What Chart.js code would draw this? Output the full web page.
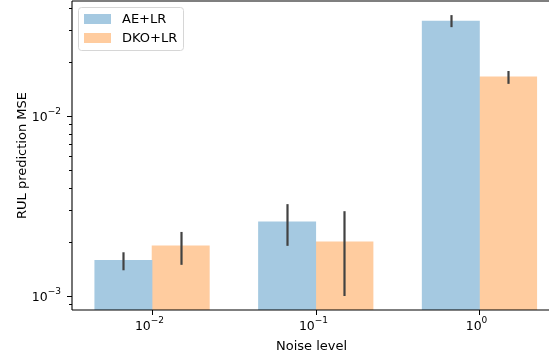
<!DOCTYPE html>
<html>
<head>
<meta charset="utf-8">
<script src="https://cdn.jsdelivr.net/npm/chart.js@4/dist/chart.umd.min.js"></script>
<style>
  html, body { margin: 0; padding: 0; background: #ffffff; }
  #wrap { width: 552px; height: 358px; position: relative; }
</style>
</head>
<body>
<div id="wrap"><canvas id="chart" width="552" height="358"></canvas></div>
<script>
// Noise levels on the x axis (group centres at 0, 1, 2), written as 10^exponent
const noiseExponents = ['\u22122', '\u22121', '0'];
const groupPositions = [0, 1, 2];
const barOffset = 0.175;          // half of one bar's width, in group units

// Mean RUL prediction MSE with lower / upper error limits
const aeMean  = [0.00158, 0.00258, 0.0337];
const aeLow   = [0.00139, 0.00190, 0.0312];
const aeHigh  = [0.00175, 0.00324, 0.0364];

const dkoMean = [0.00190, 0.00200, 0.0165];
const dkoLow  = [0.00149, 0.00100, 0.0151];
const dkoHigh = [0.00227, 0.00296, 0.0178];

// Log-axis tick values and labels
const yMajorTicks     = [0.001, 0.01];
const yMajorExponents = ['\u22123', '\u22122'];
const yMinorTicks     = [0.0009, 0.002, 0.003, 0.004, 0.005, 0.006, 0.007, 0.008, 0.009, 0.02, 0.03, 0.04];

const FONT = 'DejaVu Sans';
const BASE_FONT = '12.5px ' + FONT;
const SUP_FONT = '9px ' + FONT;
Chart.defaults.font.family = FONT;
Chart.defaults.font.size = 13;
Chart.defaults.color = '#000000';

const errs = [
  { low: aeLow, high: aeHigh },
  { low: dkoLow, high: dkoHigh }
];

// "10" followed by a raised exponent; align is 'center' or 'right'
function drawPower(ctx, exp, x, baseline, align) {
  ctx.font = BASE_FONT;
  const wb = ctx.measureText('10').width;
  ctx.font = SUP_FONT;
  const ws = ctx.measureText(exp).width;
  const total = wb + ws;
  const left = align === 'center' ? x - total / 2 : x - total;
  ctx.textAlign = 'left';
  ctx.textBaseline = 'alphabetic';
  ctx.font = BASE_FONT;
  ctx.fillText('10', left, baseline);
  ctx.font = SUP_FONT;
  ctx.fillText(exp, left + wb, baseline - 7);
}

// Error bars, axis spines, tick marks, tick labels and the in-plot legend
const decorations = {
  id: 'decorations',
  afterDatasetsDraw(chart) {
    const ctx = chart.ctx;
    const y = chart.scales.y;
    ctx.save();
    ctx.strokeStyle = '#424242';
    ctx.lineWidth = 2.2;
    ctx.lineCap = 'butt';
    chart.data.datasets.forEach((ds, di) => {
      const meta = chart.getDatasetMeta(di);
      meta.data.forEach((bar, i) => {
        const px = Math.round(bar.x) + 0.5;
        ctx.beginPath();
        ctx.moveTo(px, y.getPixelForValue(errs[di].low[i]));
        ctx.lineTo(px, y.getPixelForValue(errs[di].high[i]));
        ctx.stroke();
      });
    });
    ctx.restore();
  },
  afterDraw(chart) {
    const ctx = chart.ctx;
    const a = chart.chartArea;
    const x = chart.scales.x;
    const y = chart.scales.y;
    const edge = a.right - 2;
    ctx.save();
    ctx.strokeStyle = '#000000';
    ctx.lineWidth = 1.1;
    // top and bottom spines across the plot, left spine down the y axis
    ctx.beginPath();
    ctx.moveTo(a.left, a.top);
    ctx.lineTo(edge, a.top);
    ctx.stroke();
    ctx.beginPath();
    ctx.moveTo(a.left, a.top);
    ctx.lineTo(a.left, a.bottom);
    ctx.stroke();
    ctx.beginPath();
    ctx.moveTo(a.left, a.bottom);
    ctx.lineTo(edge, a.bottom);
    ctx.stroke();
    // y ticks and labels
    ctx.lineWidth = 1;
    ctx.fillStyle = '#000000';
    yMajorTicks.forEach((v, i) => {
      const py = Math.round(y.getPixelForValue(v)) + 0.5;
      ctx.beginPath(); ctx.moveTo(a.left - 5, py); ctx.lineTo(a.left, py); ctx.stroke();
      drawPower(ctx, yMajorExponents[i], a.left - 11, py + 4.5, 'right');
    });
    yMinorTicks.forEach(v => {
      const py = Math.round(y.getPixelForValue(v)) + 0.5;
      ctx.beginPath(); ctx.moveTo(a.left - 3, py); ctx.lineTo(a.left, py); ctx.stroke();
    });
    // x ticks and labels
    groupPositions.forEach((v, i) => {
      const px = Math.round(x.getPixelForValue(v)) + 0.5;
      ctx.beginPath(); ctx.moveTo(px, a.bottom); ctx.lineTo(px, a.bottom + 5); ctx.stroke();
      drawPower(ctx, noiseExponents[i], px - 3, a.bottom + 20, 'center');
    });

    // legend
    const lx = 78.5, ly = 7.5, lw = 105, lh = 43, r = 3;
    ctx.beginPath();
    ctx.moveTo(lx + r, ly);
    ctx.arcTo(lx + lw, ly, lx + lw, ly + lh, r);
    ctx.arcTo(lx + lw, ly + lh, lx, ly + lh, r);
    ctx.arcTo(lx, ly + lh, lx, ly, r);
    ctx.arcTo(lx, ly, lx + lw, ly, r);
    ctx.closePath();
    ctx.fillStyle = 'rgba(255,255,255,0.8)';
    ctx.fill();
    ctx.strokeStyle = '#d6d6d6';
    ctx.lineWidth = 1;
    ctx.stroke();
    ctx.font = '13px ' + FONT;
    ctx.textBaseline = 'middle';
    ctx.textAlign = 'left';
    chart.data.datasets.forEach((ds, i) => {
      const ry = 14 + i * 19;
      ctx.fillStyle = ds.backgroundColor;
      ctx.fillRect(84, ry, 27, 10);
      ctx.fillStyle = '#000000';
      ctx.fillText(ds.label, 122, ry + 5.5);
    });
    ctx.restore();
  }
};

new Chart(document.getElementById('chart'), {
  type: 'bar',
  data: {
    datasets: [
      {
        label: 'AE+LR',
        data: groupPositions.map((g, i) => ({ x: g - barOffset, y: aeMean[i] })),
        backgroundColor: 'rgb(165,201,225)',
        borderWidth: 0
      },
      {
        label: 'DKO+LR',
        data: groupPositions.map((g, i) => ({ x: g + barOffset, y: dkoMean[i] })),
        backgroundColor: 'rgb(255,204,159)',
        borderWidth: 0
      }
    ]
  },
  options: {
    responsive: false,
    animation: false,
    grouped: false,
    barPercentage: 1,
    categoryPercentage: 1,
    layout: { padding: { top: 1, right: 1, left: 0, bottom: 0 } },
    plugins: {
      legend: { display: false },
      tooltip: { enabled: false }
    },
    scales: {
      x: {
        type: 'linear',
        offset: false,
        min: -0.489,
        max: 2.437,
        grid: { display: false },
        border: { display: false },
        afterBuildTicks(scale) {
          scale.ticks = groupPositions.map(v => ({ value: v }));
        },
        afterFit(scale) {
          scale.height = 48;
          scale.paddingLeft = 0;
          scale.paddingRight = 0;
        },
        ticks: { display: false },
        title: {
          display: true,
          text: 'Noise level',
          padding: { top: 0, bottom: 4 }
        }
      },
      y: {
        type: 'logarithmic',
        min: 0.000836,
        max: 0.0436,
        grid: { display: false },
        border: { display: false },
        afterBuildTicks(scale) {
          scale.ticks = yMajorTicks.map(v => ({ value: v }));
        },
        afterFit(scale) {
          scale.width = 72;
          scale.paddingTop = 0;
          scale.paddingBottom = 0;
        },
        ticks: { display: false },
        title: {
          display: true,
          text: 'RUL prediction MSE',
          padding: { top: 15, bottom: 0 }
        }
      }
    }
  },
  plugins: [decorations]
});
</script>
</body>
</html>
